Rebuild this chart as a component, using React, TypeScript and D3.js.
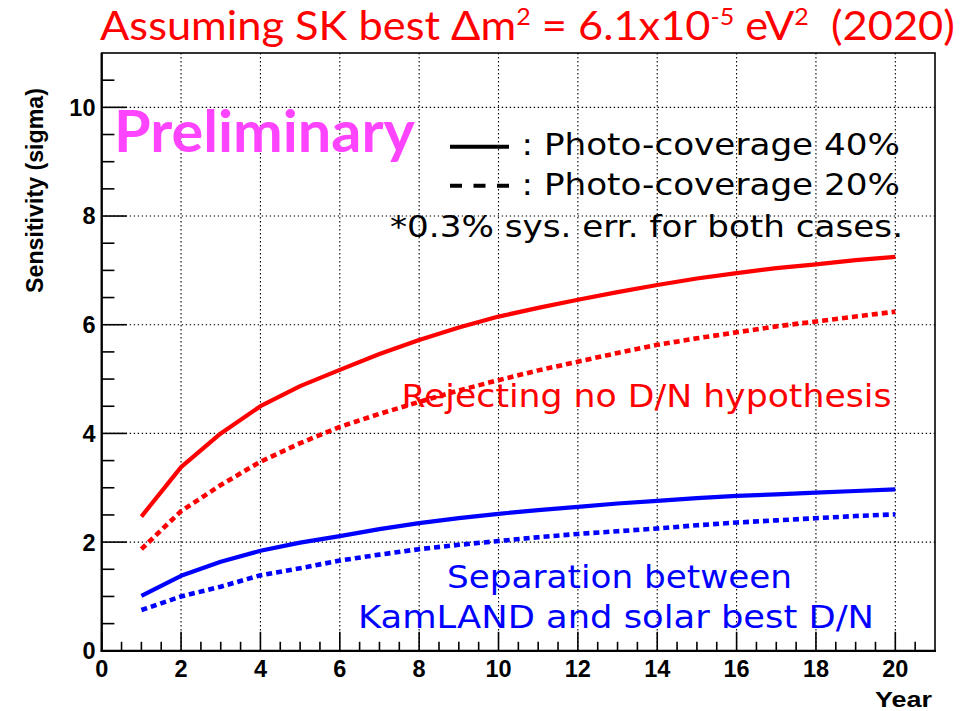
import React, { useLayoutEffect, useRef } from "react";
import * as d3 from "d3";

// Exposure in years
const years = [1, 2, 3, 4, 5, 6, 7, 8, 9, 10, 11, 12, 13, 14, 15, 16, 17, 18, 19, 20];

// Sensitivity (sigma) to reject the no day/night hypothesis
const rejectNoDN40 = [2.47, 3.38, 4.0, 4.5, 4.87, 5.17, 5.46, 5.72, 5.95, 6.15, 6.31, 6.46, 6.6, 6.73, 6.85, 6.95, 7.04, 7.11, 7.19, 7.25];
const rejectNoDN20 = [1.87, 2.57, 3.05, 3.48, 3.82, 4.12, 4.36, 4.58, 4.79, 4.98, 5.16, 5.32, 5.48, 5.63, 5.75, 5.86, 5.97, 6.06, 6.15, 6.24];

// Sensitivity (sigma) to separate KamLAND and solar best D/N
const separation40 = [1.01, 1.38, 1.64, 1.84, 1.99, 2.11, 2.24, 2.35, 2.44, 2.52, 2.59, 2.65, 2.71, 2.76, 2.81, 2.85, 2.88, 2.91, 2.94, 2.97];
const separation20 = [0.75, 1.0, 1.18, 1.39, 1.52, 1.66, 1.77, 1.87, 1.95, 2.02, 2.09, 2.15, 2.2, 2.25, 2.31, 2.36, 2.4, 2.44, 2.48, 2.51];

const xMajorTicks = [0, 2, 4, 6, 8, 10, 12, 14, 16, 18, 20];
const yMajorTicks = [0, 2, 4, 6, 8, 10];
const xMinorTicks = [0.5, 1, 1.5, 2.5, 3, 3.5, 4.5, 5, 5.5, 6.5, 7, 7.5, 8.5, 9, 9.5, 10.5, 11, 11.5, 12.5, 13, 13.5, 14.5, 15, 15.5, 16.5, 17, 17.5, 18.5, 19, 19.5, 20.5];
const yMinorTicks = [0.5, 1, 1.5, 2.5, 3, 3.5, 4.5, 5, 5.5, 6.5, 7, 7.5, 8.5, 9, 9.5, 10.5];

const W = 974;
const H = 711;
const frame = { left: 101.7, right: 935, top: 53, bottom: 650.8 };

const RED = "#ff0000";
const BLUE = "#0000ff";
const AXIS_FONT = "'Liberation Sans', Arial, Helvetica, sans-serif";
const TEXT_FONT = "'DejaVu Sans', 'Liberation Sans', sans-serif";
const HUMANIST_FONT = "Lato, 'Open Sans', sans-serif";

type FitProps = {
  x: number;
  y: number;
  width: number;
  children: React.ReactNode;
  [k: string]: any;
};

// Text scaled horizontally so that it spans exactly `width` pixels from x.
function FitText({ x, y, width, children, ...rest }: FitProps) {
  const ref = useRef<SVGTextElement>(null);
  useLayoutEffect(() => {
    const fit = () => {
      const el = ref.current;
      if (!el) return;
      el.removeAttribute("transform");
      const w = el.getBBox().width;
      if (w > 0) {
        const s = width / w;
        el.setAttribute("transform", `translate(${x} 0) scale(${s} 1) translate(${-x} 0)`);
      }
    };
    fit();
    if ((document as any).fonts?.ready) (document as any).fonts.ready.then(fit);
  });
  return (
    <text ref={ref} x={x} y={y} style={{ whiteSpace: "pre" }} {...rest}>
      {children}
    </text>
  );
}

export default function App() {
  const x = d3.scaleLinear().domain([0, 21]).range([frame.left, frame.right]);
  const y = d3.scaleLinear().domain([0, 11]).range([frame.bottom, frame.top]);

  const line = (vals: number[]) =>
    d3
      .line<number>()
      .x((_, i) => x(years[i]))
      .y((v) => y(v))(vals) as string;

  const series = [
    { vals: rejectNoDN40, color: RED, dash: undefined, w: 4.2 },
    { vals: rejectNoDN20, color: RED, dash: "6 4", w: 4.6 },
    { vals: separation40, color: BLUE, dash: undefined, w: 4.2 },
    { vals: separation20, color: BLUE, dash: "6 4", w: 4.6 },
  ];

  return (
    <svg
      width={W}
      height={H}
      viewBox={`0 0 ${W} ${H}`}
      style={{ position: "absolute", left: 0, top: 0, background: "#fff" }}
    >
      <rect x={0} y={0} width={W} height={H} fill="#fff" />

      {/* Title */}
      <FitText x={100} y={40} width={855} fill={RED} fontFamily={HUMANIST_FONT} fontSize={40}>
        Assuming SK best Δm
        <tspan fontSize={23} dy={-15}>2</tspan>
        <tspan dy={15}> = 6.1x10</tspan>
        <tspan fontSize={23} dy={-15}>-5</tspan>
        <tspan dy={15}> eV</tspan>
        <tspan fontSize={23} dy={-15}>2</tspan>
        <tspan dy={15}>  (2020)</tspan>
      </FitText>

      {/* Grid */}
      <g stroke="#000" strokeWidth={1.1} strokeDasharray="1.4 2.6">
        {xMajorTicks
          .filter((t) => t > 0)
          .map((t) => (
            <line key={`gx${t}`} x1={x(t)} x2={x(t)} y1={frame.top} y2={frame.bottom} />
          ))}
        {yMajorTicks
          .filter((t) => t > 0)
          .map((t) => (
            <line key={`gy${t}`} x1={frame.left} x2={frame.right} y1={y(t)} y2={y(t)} />
          ))}
      </g>

      {/* Ticks */}
      <g stroke="#000" strokeWidth={1.6}>
        {xMajorTicks.map((t) => (
          <line key={`xM${t}`} x1={x(t)} x2={x(t)} y1={frame.bottom} y2={frame.bottom - 19} />
        ))}
        {xMinorTicks.map((t) => (
          <line key={`xm${t}`} x1={x(t)} x2={x(t)} y1={frame.bottom} y2={frame.bottom - 9} />
        ))}
        {yMajorTicks.map((t) => (
          <line key={`yM${t}`} x1={frame.left} x2={frame.left + 25} y1={y(t)} y2={y(t)} />
        ))}
        {yMinorTicks.map((t) => (
          <line key={`ym${t}`} x1={frame.left} x2={frame.left + 12.7} y1={y(t)} y2={y(t)} />
        ))}
      </g>

      {/* Frame */}
      <rect
        x={frame.left}
        y={frame.top}
        width={frame.right - frame.left}
        height={frame.bottom - frame.top}
        fill="none"
        stroke="#000"
        strokeWidth={1.6}
      />
      <line x1={frame.left} x2={frame.left} y1={frame.top} y2={frame.bottom + 1} stroke="#000" strokeWidth={2.2} />
      <line x1={frame.left - 1} x2={frame.right + 1} y1={frame.bottom} y2={frame.bottom} stroke="#000" strokeWidth={2.2} />

      {/* Tick labels */}
      <g fontFamily={AXIS_FONT} fontWeight="bold" fontSize={23.5} fill="#000">
        {xMajorTicks.map((t, i) => (
          <text key={`xl${t}`} x={x(t)} y={677} textAnchor="middle">
            {String(xMajorTicks[i])}
          </text>
        ))}
        {yMajorTicks.map((t) => (
          <text key={`yl${t}`} x={95.5} y={y(t) + 8.4} textAnchor="end">
            {String(t)}
          </text>
        ))}
      </g>

      {/* Axis titles */}
      <text
        x={932}
        y={707}
        textAnchor="end"
        fontFamily={AXIS_FONT}
        fontWeight="bold"
        fontSize={22}
        textLength={57}
        lengthAdjust="spacingAndGlyphs"
      >
        Year
      </text>
      <text
        transform="translate(43 88) rotate(-90)"
        textAnchor="end"
        fontFamily={AXIS_FONT}
        fontWeight="bold"
        fontSize={23}
        textLength={205}
        lengthAdjust="spacingAndGlyphs"
      >
        Sensitivity (sigma)
      </text>

      {/* Curves */}
      <g fill="none" strokeLinejoin="round">
        {series.map((s, i) => (
          <path key={i} d={line(s.vals)} stroke={s.color} strokeWidth={s.w} strokeDasharray={s.dash} />
        ))}
      </g>

      {/* Preliminary stamp */}
      <FitText x={114} y={152} width={302} fill="#ff44ff" fontFamily={HUMANIST_FONT} fontWeight="bold" fontSize={57}>
        Preliminary
      </FitText>

      {/* Legend */}
      <line x1={450} x2={509} y1={146.7} y2={146.7} stroke="#000" strokeWidth={4} />
      <line x1={450} x2={509} y1={185.7} y2={185.7} stroke="#000" strokeWidth={4} strokeDasharray="12 11.5" />
      <g fontFamily={TEXT_FONT} fontSize={29.5} fill="#000">
        <text x={521.5} y={155} textLength={378.5} lengthAdjust="spacingAndGlyphs">
          : Photo-coverage 40%
        </text>
        <text x={521.5} y={195} textLength={378.5} lengthAdjust="spacingAndGlyphs">
          : Photo-coverage 20%
        </text>
        <text x={390} y={237} textLength={513} lengthAdjust="spacingAndGlyphs">
          *0.3% sys. err. for both cases.
        </text>
      </g>

      {/* Curve annotations */}
      <g fontFamily={TEXT_FONT} fontSize={32}>
        <text x={401.5} y={407} fill={RED} textLength={490} lengthAdjust="spacingAndGlyphs">
          Rejecting no D/N hypothesis
        </text>
        <text x={447} y={588} fill={BLUE} textLength={345} lengthAdjust="spacingAndGlyphs">
          Separation between
        </text>
        <text x={358} y={628} fill={BLUE} textLength={516} lengthAdjust="spacingAndGlyphs">
          KamLAND and solar best D/N
        </text>
      </g>
    </svg>
  );
}
